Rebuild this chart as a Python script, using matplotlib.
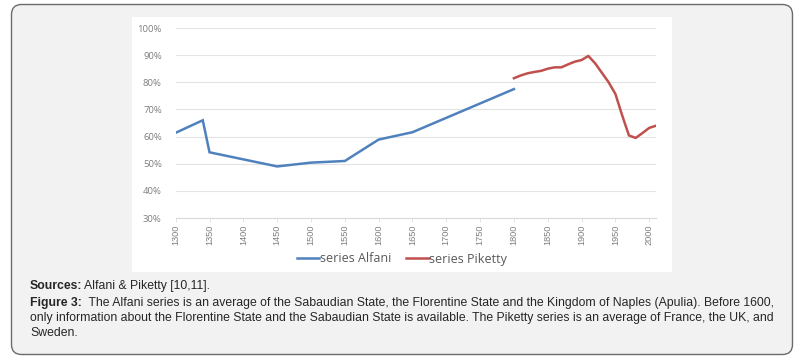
import numpy as np
import matplotlib.pyplot as plt
from matplotlib.patches import FancyBboxPatch, Rectangle
from matplotlib.ticker import FuncFormatter

# Data (share, %)
alfani_years = [1300, 1340, 1350, 1450, 1500, 1550, 1600, 1650, 1700, 1750, 1800]
alfani_vals = [61.4, 66.0, 54.2, 49.0, 50.4, 51.0, 58.9, 61.6, 66.9, 72.2, 77.5]

piketty_years = [1800, 1810, 1820, 1830, 1840, 1850, 1860, 1870, 1880, 1890, 1900,
                 1910, 1920, 1930, 1940, 1950, 1960, 1970, 1980, 1990, 2000, 2010]
piketty_vals = [81.5, 82.5, 83.3, 83.8, 84.2, 85.0, 85.5, 85.5, 86.6, 87.6, 88.2,
                89.7, 87.0, 83.5, 80.0, 75.7, 67.8, 60.4, 59.5, 61.3, 63.2, 64.0]

x_ticks = list(range(1300, 2001, 50))
y_ticks = list(range(30, 101, 10))

caption_sources = "Alfani & Piketty [10,11]."
caption_fig = ["  The Alfani series is an average of the Sabaudian State, the Florentine State "
               "and the Kingdom of Naples (Apulia). Before 1600,",
               "only information about the Florentine State and the Sabaudian State is available. "
               "The Piketty series is an average of France, the UK, and",
               "Sweden."]

fig = plt.figure(figsize=(7.99, 3.63), dpi=100)

# background axes in pixel units
bg = fig.add_axes([0, 0, 1, 1], zorder=0)
bg.set_xlim(0, 799)
bg.set_ylim(363, 0)
bg.axis('off')
bg.add_patch(FancyBboxPatch((11.5, 4.5), 781, 350, boxstyle="round,pad=0,rounding_size=10",
                            fc='#f2f2f2', ec='#6b6b6b', lw=1.0))
bg.add_patch(Rectangle((132, 17), 540, 255, fc='white', ec='none'))

cap_font = dict(family='Liberation Sans', fontsize=8.8, color='#262626', va='center')
t = bg.text(30, 286, "Sources:", fontweight='bold', **cap_font)
fig.canvas.draw()
x1 = t.get_window_extent().x1
bg.text(x1 + 2, 286, caption_sources, **cap_font)

t = bg.text(30, 303, "Figure 3:", fontweight='bold', **cap_font)
fig.canvas.draw()
x1 = t.get_window_extent().x1
bg.text(x1, 303, caption_fig[0], **cap_font)
bg.text(30, 318, caption_fig[1], **cap_font)
bg.text(30, 333, caption_fig[2], **cap_font)

# chart
ax = fig.add_axes([175.7 / 799, 1 - 218 / 363, (656 - 175.7) / 799, 190 / 363], zorder=1)
ax.patch.set_alpha(0)
ax.plot(alfani_years, alfani_vals, color='#4f81bd', lw=1.8, label='series Alfani',
        solid_joinstyle='miter')
ax.plot(piketty_years, piketty_vals, color='#c0504d', lw=1.8, label='series Piketty')

ax.set_xlim(1300, 2010)
ax.set_ylim(30, 100)
ax.set_yticks(y_ticks)
ax.yaxis.set_major_formatter(FuncFormatter(lambda v, p: f"{v:.0f}%"))
ax.set_xticks(x_ticks)
ax.set_xticklabels([str(v) for v in x_ticks], rotation=90,
                   family=['Liberation Sans Narrow', 'Liberation Sans'], fontsize=6.6,
                   color='#7f7f7f')
ax.tick_params(axis='y', length=0, pad=10, labelsize=6.8, labelcolor='#7f7f7f')
ax.tick_params(axis='x', length=3, width=0.5, color='#d9d9d9', pad=1.5)
for lbl in ax.get_yticklabels():
    lbl.set_family('Open Sans')
ax.grid(axis='y', color='#e3e3e3', lw=0.8)
ax.set_axisbelow(True)
for s in ['top', 'right', 'left']:
    ax.spines[s].set_visible(False)
ax.spines['bottom'].set_color('#d9d9d9')
ax.spines['bottom'].set_linewidth(0.8)

leg = ax.legend(loc='center', bbox_to_anchor=(402 / 799, 1 - 259 / 363),
                bbox_transform=fig.transFigure, ncol=2, frameon=False,
                handlelength=1.8, handletextpad=0.05, columnspacing=1.2,
                prop={'family': 'Open Sans', 'size': 9})
for txt in leg.get_texts():
    txt.set_color('#595959')

fig.savefig('out.png', dpi=100)
